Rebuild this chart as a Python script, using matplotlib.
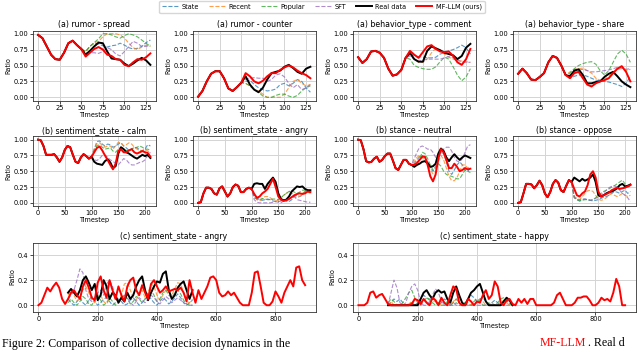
import matplotlib
matplotlib.use('Agg')
import matplotlib.pyplot as plt
from matplotlib.lines import Line2D

# ---------------- data ----------------
methods = ['State', 'Recent', 'Popular', 'SFT', 'Real data', 'MF-LLM (ours)']

# Row (a): timesteps 0..130 step 5
t_a = list(range(0, 131, 5))

spread_hist = [0.98, 0.93, 0.80, 0.67, 0.60, 0.59, 0.70, 0.85, 0.89, 0.82, 0.76]
spread_state = [0.72, 0.80, 0.85, 0.84, 0.81, 0.79, 0.81, 0.82, 0.85, 0.82, 0.78, 0.76, 0.77, 0.80, 0.86, 0.90]
spread_recent = [0.72, 0.80, 0.86, 0.88, 0.95, 1.00, 1.00, 1.00, 0.98, 0.93, 0.85, 0.78, 0.75, 0.79, 0.82, 0.80]
spread_popular = [0.72, 0.80, 0.86, 0.92, 1.00, 1.00, 0.98, 0.95, 0.93, 0.97, 1.00, 0.98, 0.95, 0.90, 0.85, 0.80]
spread_sft = [0.70, 0.70, 0.70, 0.69, 0.72, 0.78, 0.75, 0.68, 0.65, 0.72, 0.80, 0.88, 0.85, 0.80, 0.80, 0.82]
spread_real = [0.67, 0.73, 0.80, 0.86, 0.85, 0.72, 0.61, 0.60, 0.59, 0.53, 0.49, 0.53, 0.58, 0.62, 0.58, 0.51]
spread_mf = [0.64, 0.70, 0.76, 0.79, 0.75, 0.67, 0.65, 0.60, 0.59, 0.51, 0.49, 0.55, 0.60, 0.59, 0.63, 0.69]

counter_hist = [0.01, 0.10, 0.25, 0.37, 0.41, 0.41, 0.30, 0.14, 0.10, 0.16, 0.23]
counter_state = [0.25, 0.27, 0.20, 0.15, 0.12, 0.10, 0.11, 0.13, 0.20, 0.22, 0.18, 0.22, 0.28, 0.25, 0.15, 0.08]
counter_recent = [0.22, 0.18, 0.12, 0.10, 0.05, 0.00, 0.00, 0.00, 0.00, 0.05, 0.15, 0.25, 0.28, 0.22, 0.18, 0.20]
counter_popular = [0.22, 0.18, 0.12, 0.08, 0.02, 0.00, 0.00, 0.03, 0.05, 0.05, 0.02, 0.00, 0.03, 0.10, 0.15, 0.18]
counter_sft = [0.28, 0.30, 0.31, 0.30, 0.30, 0.25, 0.28, 0.35, 0.37, 0.32, 0.22, 0.15, 0.20, 0.12, 0.15, 0.20]
counter_real = [0.33, 0.20, 0.12, 0.08, 0.15, 0.28, 0.38, 0.40, 0.42, 0.48, 0.51, 0.46, 0.40, 0.37, 0.45, 0.48]
counter_mf = [0.38, 0.33, 0.25, 0.22, 0.26, 0.33, 0.38, 0.38, 0.43, 0.47, 0.50, 0.47, 0.42, 0.38, 0.35, 0.30]

comment_hist = [0.63, 0.54, 0.60, 0.72, 0.73, 0.70, 0.62, 0.45, 0.34, 0.36, 0.43, 0.62]
comment_state = [0.68, 0.66, 0.64, 0.63, 0.62, 0.62, 0.63, 0.68, 0.70, 0.73, 0.75, 0.78, 0.82, 0.78, 0.68]
comment_recent = [0.67, 0.60, 0.55, 0.55, 0.60, 0.70, 0.77, 0.74, 0.68, 0.63, 0.60, 0.58, 0.57, 0.56, 0.55]
comment_popular = [0.60, 0.50, 0.47, 0.45, 0.44, 0.44, 0.48, 0.56, 0.63, 0.60, 0.48, 0.35, 0.26, 0.32, 0.45]
comment_sft = [0.65, 0.60, 0.57, 0.58, 0.60, 0.60, 0.60, 0.60, 0.62, 0.64, 0.62, 0.58, 0.56, 0.55, 0.55]
comment_real = [0.70, 0.60, 0.56, 0.56, 0.73, 0.80, 0.77, 0.74, 0.70, 0.68, 0.66, 0.60, 0.65, 0.78, 0.84]
comment_mf = [0.73, 0.67, 0.62, 0.71, 0.80, 0.82, 0.76, 0.72, 0.71, 0.72, 0.65, 0.55, 0.51, 0.60, 0.76]

share_hist = [0.37, 0.45, 0.38, 0.28, 0.27, 0.32, 0.38, 0.55, 0.65, 0.62, 0.50, 0.35]
share_state = [0.30, 0.33, 0.35, 0.35, 0.33, 0.30, 0.27, 0.26, 0.25, 0.24, 0.22, 0.20, 0.17, 0.22, 0.33]
share_recent = [0.40, 0.44, 0.45, 0.46, 0.42, 0.38, 0.30, 0.27, 0.28, 0.33, 0.40, 0.44, 0.45, 0.42, 0.44]
share_popular = [0.38, 0.45, 0.50, 0.53, 0.55, 0.56, 0.52, 0.42, 0.35, 0.42, 0.55, 0.68, 0.74, 0.68, 0.55]
share_sft = [0.35, 0.40, 0.43, 0.44, 0.42, 0.40, 0.40, 0.41, 0.42, 0.43, 0.45, 0.47, 0.46, 0.44, 0.45]
share_real = [0.33, 0.42, 0.44, 0.35, 0.22, 0.22, 0.24, 0.25, 0.32, 0.37, 0.40, 0.33, 0.25, 0.20, 0.16]
share_mf = [0.30, 0.38, 0.40, 0.30, 0.20, 0.17, 0.22, 0.25, 0.27, 0.30, 0.38, 0.45, 0.49, 0.40, 0.25]

# Row (b): timesteps 0..210 step 5
t_b = list(range(0, 211, 5))

calm_hist = [1.00, 0.99, 0.90, 0.76, 0.76, 0.76, 0.77, 0.72, 0.65, 0.72, 0.84, 0.90, 0.88, 0.76, 0.65, 0.63, 0.72, 0.77, 0.74, 0.70, 0.73]
calm_state = [0.85, 0.97, 0.98, 0.93, 0.90, 0.93, 0.92, 0.88, 0.90, 0.93, 0.95, 0.90, 0.87, 0.83, 0.85, 0.88, 0.87, 0.84, 0.82, 0.85, 0.92, 0.90]
calm_recent = [0.85, 0.93, 0.95, 0.91, 0.88, 0.90, 0.90, 0.85, 0.90, 0.96, 0.95, 0.90, 0.92, 0.95, 0.93, 0.88, 0.85, 0.82, 0.83, 0.85, 0.82, 0.80]
calm_popular = [0.82, 0.90, 0.92, 0.88, 0.85, 0.86, 0.87, 0.82, 0.80, 0.85, 0.88, 0.85, 0.83, 0.82, 0.85, 0.87, 0.88, 0.90, 0.88, 0.85, 0.85, 0.83]
calm_sft = [0.68, 0.67, 0.70, 0.75, 0.76, 0.72, 0.68, 0.66, 0.62, 0.60, 0.65, 0.70, 0.68, 0.63, 0.60, 0.60, 0.62, 0.64, 0.65, 0.68, 0.75, 0.80]
calm_real = [0.65, 0.62, 0.61, 0.60, 0.66, 0.69, 0.64, 0.55, 0.58, 0.78, 0.88, 0.85, 0.80, 0.78, 0.75, 0.72, 0.70, 0.73, 0.76, 0.74, 0.76, 0.71]
calm_mf = [0.80, 0.87, 0.89, 0.83, 0.75, 0.68, 0.60, 0.53, 0.62, 0.82, 0.85, 0.80, 0.80, 0.83, 0.85, 0.80, 0.78, 0.80, 0.82, 0.80, 0.79, 0.73]

angry_hist = [0.00, 0.01, 0.15, 0.24, 0.24, 0.22, 0.15, 0.13, 0.23, 0.26, 0.18, 0.10, 0.15, 0.25, 0.29, 0.27, 0.17, 0.17, 0.22, 0.24, 0.22]
angry_state = [0.12, 0.08, 0.05, 0.04, 0.05, 0.06, 0.05, 0.03, 0.02, 0.02, 0.03, 0.05, 0.03, 0.02, 0.05, 0.10, 0.12, 0.10, 0.12, 0.18, 0.20, 0.19]
angry_recent = [0.10, 0.05, 0.03, 0.06, 0.10, 0.10, 0.08, 0.05, 0.03, 0.04, 0.08, 0.12, 0.15, 0.18, 0.16, 0.10, 0.08, 0.10, 0.15, 0.18, 0.17, 0.15]
angry_popular = [0.08, 0.06, 0.05, 0.07, 0.06, 0.05, 0.05, 0.06, 0.06, 0.05, 0.08, 0.12, 0.15, 0.18, 0.19, 0.17, 0.15, 0.17, 0.20, 0.20, 0.18, 0.17]
angry_sft = [0.05, 0.01, 0.00, 0.00, 0.00, 0.00, 0.00, 0.01, 0.02, 0.01, 0.00, 0.03, 0.06, 0.10, 0.15, 0.10, 0.05, 0.04, 0.03, 0.02, 0.01, 0.01]
angry_real = [0.30, 0.31, 0.30, 0.30, 0.22, 0.30, 0.35, 0.40, 0.33, 0.15, 0.06, 0.04, 0.05, 0.10, 0.18, 0.22, 0.26, 0.25, 0.26, 0.22, 0.20, 0.20]
angry_mf = [0.14, 0.08, 0.10, 0.15, 0.18, 0.22, 0.30, 0.38, 0.25, 0.10, 0.05, 0.03, 0.04, 0.06, 0.09, 0.12, 0.14, 0.15, 0.14, 0.15, 0.18, 0.17]

neutral_hist = [1.00, 0.99, 0.85, 0.66, 0.64, 0.65, 0.70, 0.73, 0.65, 0.68, 0.74, 0.78, 0.78, 0.67, 0.55, 0.52, 0.60, 0.68, 0.68, 0.62, 0.60]
neutral_state = [0.62, 0.68, 0.73, 0.75, 0.72, 0.65, 0.55, 0.50, 0.58, 0.72, 0.80, 0.78, 0.65, 0.50, 0.45, 0.52, 0.60, 0.65, 0.60, 0.52, 0.50, 0.55]
neutral_recent = [0.65, 0.72, 0.75, 0.72, 0.66, 0.60, 0.52, 0.46, 0.50, 0.65, 0.75, 0.68, 0.55, 0.42, 0.35, 0.35, 0.40, 0.50, 0.60, 0.60, 0.55, 0.58]
neutral_popular = [0.57, 0.62, 0.70, 0.80, 0.78, 0.70, 0.60, 0.52, 0.55, 0.62, 0.58, 0.50, 0.45, 0.43, 0.42, 0.40, 0.38, 0.38, 0.45, 0.52, 0.50, 0.48]
neutral_sft = [0.70, 0.80, 0.88, 0.90, 0.88, 0.85, 0.85, 0.80, 0.72, 0.75, 0.80, 0.85, 0.88, 0.88, 0.82, 0.72, 0.66, 0.65, 0.70, 0.80, 0.90, 0.92]
neutral_real = [0.57, 0.60, 0.62, 0.65, 0.66, 0.63, 0.57, 0.58, 0.62, 0.78, 0.86, 0.82, 0.72, 0.66, 0.72, 0.77, 0.72, 0.68, 0.72, 0.75, 0.73, 0.71]
neutral_mf = [0.60, 0.63, 0.68, 0.73, 0.73, 0.60, 0.42, 0.34, 0.45, 0.70, 0.85, 0.80, 0.68, 0.55, 0.55, 0.62, 0.57, 0.50, 0.52, 0.55, 0.53, 0.54]

oppose_hist = [0.00, 0.01, 0.15, 0.30, 0.30, 0.29, 0.23, 0.28, 0.35, 0.28, 0.15, 0.09, 0.17, 0.30, 0.36, 0.32, 0.20, 0.17, 0.27, 0.36, 0.33]
oppose_state = [0.10, 0.05, 0.03, 0.05, 0.06, 0.05, 0.04, 0.03, 0.04, 0.05, 0.07, 0.09, 0.10, 0.12, 0.15, 0.18, 0.17, 0.15, 0.18, 0.20, 0.15, 0.18]
oppose_recent = [0.10, 0.07, 0.05, 0.10, 0.15, 0.19, 0.20, 0.18, 0.12, 0.06, 0.04, 0.05, 0.08, 0.12, 0.15, 0.12, 0.10, 0.12, 0.15, 0.12, 0.10, 0.12]
oppose_popular = [0.08, 0.05, 0.03, 0.04, 0.05, 0.05, 0.04, 0.05, 0.08, 0.12, 0.15, 0.18, 0.20, 0.22, 0.25, 0.27, 0.30, 0.33, 0.36, 0.30, 0.25, 0.27]
oppose_sft = [0.08, 0.05, 0.05, 0.06, 0.06, 0.05, 0.04, 0.05, 0.07, 0.10, 0.12, 0.16, 0.20, 0.24, 0.26, 0.27, 0.25, 0.20, 0.15, 0.12, 0.08, 0.02]
oppose_real = [0.40, 0.37, 0.34, 0.38, 0.35, 0.37, 0.40, 0.45, 0.33, 0.12, 0.10, 0.12, 0.15, 0.17, 0.18, 0.20, 0.23, 0.28, 0.30, 0.26, 0.27, 0.29]
oppose_mf = [0.22, 0.12, 0.10, 0.15, 0.18, 0.28, 0.45, 0.50, 0.40, 0.18, 0.10, 0.12, 0.14, 0.16, 0.20, 0.22, 0.24, 0.22, 0.23, 0.24, 0.26, 0.28]

# Row (c): long horizon, step 10
t_c_full = list(range(0, 901, 10))
t_c_pred = list(range(100, 521, 10))

c_angry_mf = [0.00, 0.02, 0.08, 0.14, 0.11, 0.15, 0.18, 0.14, 0.05, 0.01,
              0.05, 0.10, 0.12, 0.08, 0.05, 0.15, 0.20, 0.14, 0.06, 0.04,
              0.18, 0.23, 0.12, 0.06, 0.20, 0.12, 0.05, 0.15, 0.08, 0.03,
              0.15, 0.20, 0.22, 0.12, 0.08, 0.16, 0.10, 0.05, 0.17, 0.20,
              0.15, 0.10, 0.12, 0.15, 0.11, 0.12, 0.13, 0.12, 0.14, 0.10,
              0.03, 0.20, 0.10, 0.02, 0.12, 0.05, 0.10, 0.15, 0.22, 0.23,
              0.20, 0.10, 0.07, 0.08, 0.11, 0.08, 0.10, 0.06, 0.02, 0.00,
              0.00, 0.00, 0.10, 0.26, 0.27, 0.15, 0.02, 0.00, 0.00, 0.03,
              0.11, 0.07, 0.02, 0.10, 0.15, 0.20, 0.15, 0.30, 0.31, 0.20, 0.16]
c_angry_real = [0.10, 0.13, 0.10, 0.07, 0.12, 0.20, 0.23, 0.18, 0.12, 0.17,
                0.04, 0.08, 0.20, 0.15, 0.05, 0.10, 0.08, 0.02, 0.06, 0.03,
                0.10, 0.05, 0.08, 0.15, 0.20, 0.23, 0.12, 0.04, 0.10, 0.15,
                0.19, 0.18, 0.25, 0.27, 0.12, 0.05, 0.08, 0.14, 0.17, 0.19,
                0.12, 0.05, 0.12]
c_angry_state = [0.05, 0.02, 0.00, 0.03, 0.06, 0.02, 0.00, 0.04, 0.07, 0.03,
                 0.00, 0.02, 0.05, 0.06, 0.03, 0.00, 0.02, 0.05, 0.03, 0.00,
                 0.01, 0.04, 0.06, 0.03, 0.00, 0.02, 0.05, 0.08, 0.05, 0.02,
                 0.00, 0.03, 0.06, 0.04, 0.01, 0.03, 0.06, 0.09, 0.06, 0.02,
                 0.00, 0.02, 0.04]
c_angry_recent = [0.08, 0.12, 0.08, 0.03, 0.06, 0.12, 0.15, 0.10, 0.04, 0.02,
                  0.06, 0.08, 0.03, 0.01, 0.05, 0.10, 0.06, 0.02, 0.08, 0.17,
                  0.18, 0.12, 0.06, 0.04, 0.10, 0.12, 0.06, 0.10, 0.17, 0.15,
                  0.08, 0.04, 0.08, 0.12, 0.10, 0.08, 0.13, 0.18, 0.17, 0.10,
                  0.03, 0.02, 0.05]
c_angry_popular = [0.02, 0.05, 0.02, 0.00, 0.03, 0.07, 0.05, 0.01, 0.00, 0.04,
                   0.08, 0.04, 0.00, 0.02, 0.06, 0.03, 0.00, 0.02, 0.06, 0.08,
                   0.05, 0.01, 0.03, 0.07, 0.05, 0.02, 0.05, 0.10, 0.12, 0.08,
                   0.03, 0.05, 0.10, 0.12, 0.08, 0.06, 0.10, 0.12, 0.09, 0.04,
                   0.01, 0.00, 0.00]
c_angry_sft = [0.05, 0.08, 0.12, 0.20, 0.29, 0.26, 0.12, 0.05, 0.03, 0.06,
               0.10, 0.12, 0.08, 0.17, 0.20, 0.15, 0.06, 0.03, 0.05, 0.08,
               0.06, 0.02, 0.00, 0.03, 0.06, 0.04, 0.02, 0.05, 0.08, 0.06,
               0.03, 0.01, 0.04, 0.07, 0.05, 0.02, 0.04, 0.06, 0.04, 0.02,
               0.01, 0.00, 0.00]

c_happy_mf = [0.00, 0.00, 0.00, 0.02, 0.10, 0.11, 0.06, 0.08, 0.09, 0.05,
              0.01, 0.00, 0.00, 0.00, 0.00, 0.00, 0.00, 0.00, 0.01, 0.05,
              0.04, 0.01, 0.05, 0.02, 0.00, 0.06, 0.04, 0.00, 0.06, 0.02,
              0.00, 0.08, 0.15, 0.13, 0.02, 0.00, 0.00, 0.05, 0.03, 0.00,
              0.03, 0.02, 0.08, 0.12, 0.05, 0.08, 0.19, 0.15, 0.02, 0.00,
              0.04, 0.05, 0.01, 0.00, 0.05, 0.02, 0.05, 0.01, 0.05, 0.05,
              0.00, 0.00, 0.00, 0.00, 0.00, 0.00, 0.02, 0.08, 0.10, 0.05,
              0.00, 0.00, 0.00, 0.02, 0.06, 0.06, 0.07, 0.07, 0.04, 0.00,
              0.00, 0.02, 0.06, 0.04, 0.05, 0.03, 0.10, 0.21, 0.15, 0.00, 0.00]
c_happy_real = [0.00, 0.00, 0.00, 0.00, 0.00, 0.00, 0.00, 0.00, 0.00, 0.00,
                0.00, 0.05, 0.10, 0.12, 0.08, 0.05, 0.10, 0.12, 0.10, 0.11,
                0.05, 0.02, 0.10, 0.15, 0.08, 0.02, 0.00, 0.05, 0.10, 0.12,
                0.15, 0.17, 0.10, 0.03, 0.00, 0.00, 0.00, 0.00, 0.00, 0.03,
                0.06, 0.04, 0.00]
c_happy_state = [0.00, 0.02, 0.05, 0.03, 0.05, 0.02, 0.00, 0.01, 0.02, 0.00,
                 0.02, 0.05, 0.08, 0.06, 0.04, 0.06, 0.03, 0.00, 0.02, 0.05,
                 0.03, 0.00, 0.02, 0.05, 0.02, 0.00, 0.02, 0.05, 0.08, 0.06,
                 0.03, 0.05, 0.06, 0.03, 0.00, 0.02, 0.04, 0.02, 0.00, 0.02,
                 0.04, 0.02, 0.00]
c_happy_recent = [0.00, 0.03, 0.00, 0.00, 0.00, 0.00, 0.00, 0.01, 0.03, 0.00,
                  0.00, 0.02, 0.05, 0.03, 0.00, 0.02, 0.04, 0.02, 0.00, 0.02,
                  0.00, 0.00, 0.03, 0.05, 0.02, 0.00, 0.00, 0.02, 0.00, 0.00,
                  0.02, 0.05, 0.03, 0.00, 0.00, 0.02, 0.00, 0.00, 0.02, 0.04,
                  0.02, 0.00, 0.00]
c_happy_popular = [0.02, 0.05, 0.03, 0.00, 0.00, 0.02, 0.06, 0.10, 0.12, 0.06,
                   0.02, 0.00, 0.03, 0.06, 0.05, 0.02, 0.00, 0.02, 0.00, 0.00,
                   0.03, 0.00, 0.00, 0.02, 0.00, 0.00, 0.02, 0.00, 0.00, 0.03,
                   0.05, 0.03, 0.00, 0.00, 0.02, 0.00, 0.00, 0.02, 0.05, 0.06,
                   0.04, 0.01, 0.00]
c_happy_sft = [0.00, 0.10, 0.20, 0.14, 0.02, 0.00, 0.02, 0.10, 0.15, 0.17,
               0.12, 0.02, 0.00, 0.00, 0.03, 0.08, 0.13, 0.10, 0.03, 0.00,
               0.00, 0.00, 0.02, 0.00, 0.00, 0.00, 0.00, 0.00, 0.00, 0.00,
               0.00, 0.00, 0.00, 0.00, 0.00, 0.00, 0.00, 0.00, 0.00, 0.00,
               0.00, 0.00, 0.00]

caption_text = 'Figure 2: Comparison of collective decision dynamics in the'
caption_red = 'MF-LLM'
caption_tail = '. Real d'

# ---------------- styling ----------------
colors = ['#1f77b4', '#ff7f0e', '#2ca02c', '#9467bd', 'black', 'red']
FS_TITLE = 5.7
FS_TICK = 4.8
FS_LABEL = 4.7

W, H = 640.0, 350.0
fig = plt.figure(figsize=(6.4, 3.5), dpi=100)


def make_ax(x0, x1, ytop, ybot):
    return fig.add_axes([x0 / W, 1 - ybot / H, (x1 - x0) / W, (ybot - ytop) / H])


def style(ax, title):
    ax.set_title(title, fontsize=FS_TITLE, pad=2.5)
    ax.set_xlabel('Timestep', fontsize=FS_LABEL, labelpad=0.5)
    ax.set_ylabel('Ratio', fontsize=FS_LABEL, labelpad=1.5)
    ax.tick_params(labelsize=FS_TICK, length=2, width=0.5, pad=1.2)
    ax.grid(True, color='#d4d4d4', linewidth=0.7)
    ax.set_axisbelow(True)
    for s in ax.spines.values():
        s.set_linewidth(0.6)
        s.set_color('#333333')


def draw(ax, t, hist, preds):
    # preds: [state, recent, popular, sft, real, mf] continuation arrays
    for i in range(4):
        ax.plot(t, hist + preds[i], color=colors[i], ls='--', lw=0.8, alpha=0.75)
    ax.plot(t, hist + preds[4], color='black', lw=1.4)
    ax.plot(t, hist + preds[5], color='red', lw=1.4)


row1 = [
    ('(a) rumor - spread', spread_hist, [spread_state, spread_recent, spread_popular, spread_sft, spread_real, spread_mf]),
    ('(a) rumor - counter', counter_hist, [counter_state, counter_recent, counter_popular, counter_sft, counter_real, counter_mf]),
    ('(a) behavior_type - comment', comment_hist, [comment_state, comment_recent, comment_popular, comment_sft, comment_real, comment_mf]),
    ('(a) behavior_type - share', share_hist, [share_state, share_recent, share_popular, share_sft, share_real, share_mf]),
]
row2 = [
    ('(b) sentiment_state - calm', calm_hist, [calm_state, calm_recent, calm_popular, calm_sft, calm_real, calm_mf]),
    ('(b) sentiment_state - angry', angry_hist, [angry_state, angry_recent, angry_popular, angry_sft, angry_real, angry_mf]),
    ('(b) stance - neutral', neutral_hist, [neutral_state, neutral_recent, neutral_popular, neutral_sft, neutral_real, neutral_mf]),
    ('(b) stance - oppose', oppose_hist, [oppose_state, oppose_recent, oppose_popular, oppose_sft, oppose_real, oppose_mf]),
]

xcols = [(32.5, 156), (192.5, 316), (352.5, 476), (512.5, 636)]

for (x0, x1), (title, hist, preds) in zip(xcols, row1):
    ax = make_ax(x0, x1, 30.5, 100.5)
    draw(ax, t_a, hist, preds)
    style(ax, title)
    ax.set_xticks([0, 25, 50, 75, 100, 125])
    ax.set_yticks([0.0, 0.25, 0.5, 0.75, 1.0])
    ax.set_ylim(-0.05, 1.05)

for (x0, x1), (title, hist, preds) in zip(xcols, row2):
    ax = make_ax(x0, x1, 136.5, 206)
    draw(ax, t_b, hist, preds)
    style(ax, title)
    ax.set_xticks([0, 50, 100, 150, 200])
    ax.set_yticks([0.0, 0.25, 0.5, 0.75, 1.0])
    ax.set_ylim(-0.05, 1.05)

row3 = [
    ('(c) sentiment_state - angry', (32.5, 315.5),
     [c_angry_state, c_angry_recent, c_angry_popular, c_angry_sft, c_angry_real], c_angry_mf),
    ('(c) sentiment_state - happy', (352.5, 635.5),
     [c_happy_state, c_happy_recent, c_happy_popular, c_happy_sft, c_happy_real], c_happy_mf),
]
for title, (x0, x1), others, mf in row3:
    ax = make_ax(x0, x1, 242.5, 311.5)
    for i in range(4):
        ax.plot(t_c_pred, others[i], color=colors[i], ls='--', lw=0.8, alpha=0.75)
    ax.plot(t_c_pred, others[4], color='black', lw=1.4)
    ax.plot(t_c_full, mf, color='red', lw=1.4)
    style(ax, title)
    ax.set_xticks([0, 200, 400, 600, 800])
    ax.set_yticks([0.0, 0.2, 0.4])
    ax.set_ylim(-0.05, 0.5)
    ax.set_xlim(-20, 935)

handles = []
for i, m in enumerate(methods):
    if i < 4:
        handles.append(Line2D([], [], color=colors[i], ls='--', lw=0.8, alpha=0.75))
    else:
        handles.append(Line2D([], [], color=colors[i], lw=1.4))
fig.legend(handles, methods, loc='upper center', bbox_to_anchor=(322 / W, 1.006), ncol=6,
           fontsize=4.7, frameon=True, handlelength=2.4, columnspacing=1.5, handletextpad=0.6,
           borderpad=0.4, fancybox=True, edgecolor='#cccccc')

# caption line at the bottom of the image (kept fully inside the canvas)
cap_y = 1 - 346.5 / H
cap_kw = dict(fontsize=8.6, family='Liberation Serif', ha='left', va='baseline')
fig.text(2 / W, cap_y, caption_text, **cap_kw)
fig.text(540 / W, cap_y, caption_red, color='red', **cap_kw)
fig.text(588 / W, cap_y, caption_tail, **cap_kw)

fig.savefig('out.png', dpi=100)
